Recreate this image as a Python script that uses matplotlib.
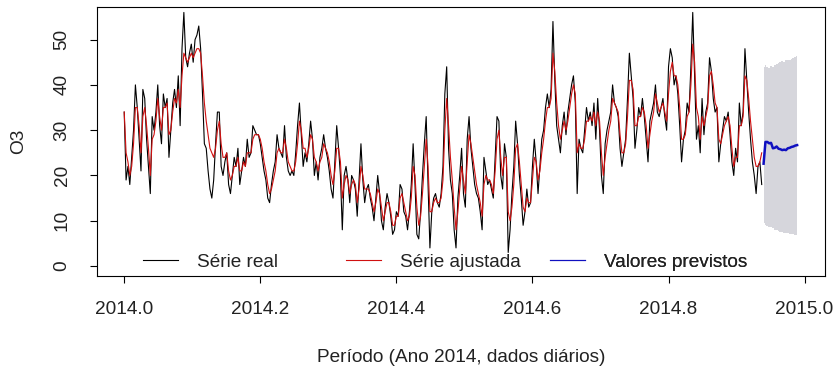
import numpy as np
import matplotlib
matplotlib.use("Agg")
import matplotlib.pyplot as plt
from matplotlib.lines import Line2D

# daily O3 values (day 0 = 2014.0)
serie_real = [
    34, 19, 22, 18, 24, 30, 40, 35, 28, 21, 39, 37, 28, 22, 16, 33, 30, 34, 40, 31,
    27, 38, 35, 37, 24, 30, 36, 39, 35, 42, 31, 48, 56, 46, 44, 47, 49, 45, 50, 51,
    53, 48, 38, 27, 26, 21, 17, 15, 19, 27, 34, 34, 22, 20, 23, 25, 18, 16, 20, 24,
    22, 26, 18, 21, 24, 22, 28, 24, 25, 31, 30, 29, 29, 27, 24, 21, 19, 15, 14, 18,
    21, 23, 29, 26, 25, 24, 31, 24, 21, 20, 21, 20, 25, 31, 36, 29, 22, 25, 23, 27,
    32, 28, 20, 23, 19, 24, 26, 29, 26, 24, 21, 17, 15, 23, 31, 26, 20, 8, 20, 22,
    19, 14, 20, 19, 17, 11, 19, 27, 19, 14, 17, 18, 15, 13, 10, 15, 20, 16, 10, 8,
    13, 16, 14, 11, 7, 8, 12, 11, 18, 17, 12, 11, 8, 12, 18, 27, 18, 7, 6, 12,
    20, 27, 33, 18, 4, 12, 15, 16, 14, 13, 16, 22, 38, 44, 26, 19, 16, 8, 4, 15,
    20, 26, 16, 13, 28, 33, 26, 22, 18, 16, 15, 12, 8, 24, 21, 18, 19, 17, 15, 24,
    33, 32, 20, 17, 27, 24, 3, 8, 16, 22, 32, 27, 20, 15, 9, 12, 17, 13, 14, 22,
    28, 23, 16, 22, 28, 30, 35, 38, 35, 39, 54, 41, 31, 28, 25, 31, 34, 29, 34, 37,
    40, 42, 36, 16, 28, 26, 25, 30, 35, 32, 34, 31, 36, 28, 37, 30, 20, 16, 27, 30,
    32, 34, 40, 36, 35, 33, 26, 22, 25, 28, 37, 47, 42, 37, 26, 30, 35, 33, 37, 33,
    28, 23, 32, 34, 36, 40, 34, 33, 35, 37, 33, 30, 44, 48, 46, 40, 42, 38, 31, 23,
    28, 30, 36, 34, 44, 56, 42, 28, 31, 25, 37, 29, 34, 36, 46, 43, 37, 34, 35, 23,
    27, 30, 33, 32, 34, 29, 23, 20, 26, 23, 36, 31, 34, 48, 41, 34, 28, 23, 20, 16,
    22, 23, 18,
]

serie_ajustada = [
    34, 25, 23, 20, 22, 27, 35, 35, 31, 25, 33, 35, 31, 26, 20, 28, 29, 32, 37, 33,
    30, 35, 35, 36, 29, 30, 34, 37, 36, 39, 35, 42, 47, 46, 45, 46, 47, 46, 47, 48,
    48, 47, 42, 36, 32, 29, 26, 25, 24, 26, 30, 32, 27, 24, 24, 25, 21, 19, 20, 22,
    22, 24, 21, 21, 23, 22, 25, 25, 25, 28, 29, 29, 29, 28, 26, 23, 21, 18, 16, 17,
    19, 21, 25, 26, 25, 25, 28, 26, 23, 22, 21, 21, 23, 27, 32, 30, 26, 26, 24, 26,
    29, 28, 24, 23, 21, 23, 24, 27, 26, 25, 23, 20, 18, 21, 26, 26, 23, 15, 18, 20,
    19, 16, 18, 19, 18, 14, 17, 22, 20, 17, 17, 17, 16, 14, 12, 14, 17, 16, 13, 10,
    12, 14, 14, 12, 9, 9, 11, 11, 15, 16, 14, 12, 10, 11, 15, 22, 20, 13, 9, 11,
    16, 22, 28, 22, 12, 12, 14, 15, 14, 14, 15, 19, 30, 37, 31, 24, 19, 13, 8, 12,
    17, 22, 19, 16, 23, 29, 27, 24, 21, 18, 16, 14, 11, 18, 20, 19, 19, 18, 16, 21,
    28, 30, 24, 20, 24, 24, 12, 10, 13, 18, 26, 27, 23, 18, 13, 12, 15, 14, 14, 19,
    24, 23, 19, 21, 25, 28, 32, 35, 35, 37, 47, 43, 36, 31, 28, 30, 32, 30, 32, 35,
    38, 40, 38, 25, 27, 26, 26, 28, 32, 32, 33, 32, 34, 31, 34, 32, 25, 20, 24, 27,
    30, 32, 37, 36, 35, 34, 29, 25, 25, 27, 33, 41, 41, 39, 31, 31, 33, 33, 35, 34,
    31, 26, 29, 32, 34, 38, 36, 34, 35, 36, 34, 32, 38, 43, 45, 42, 42, 40, 35, 28,
    28, 29, 33, 34, 40, 49, 45, 35, 33, 28, 33, 31, 33, 35, 42, 43, 40, 36, 35, 28,
    27, 29, 31, 32, 33, 31, 26, 22, 24, 24, 31, 31, 33, 42, 41, 37, 32, 28, 24, 22,
    22, 23, 25,
]

# forecast (mean and interval band)
previsto = [22.6, 27.4, 27.4, 27.1, 27.2, 26.0, 26.1, 26.4, 25.9, 25.8,
            25.6, 25.7, 25.6, 26.0, 26.1, 26.3, 26.4, 26.6, 26.7]
banda_sup = [44.0, 44.3, 44.0, 43.8, 44.2, 44.0, 44.5, 44.6, 44.8, 45.0,
             45.2, 45.0, 45.4, 45.6, 45.5, 45.8, 46.0, 46.2, 46.4]
banda_inf = [9.6, 9.0, 8.8, 8.6, 8.6, 8.3, 8.0, 8.0, 7.8, 7.6,
             7.5, 7.4, 7.3, 7.2, 7.1, 7.0, 7.0, 6.9, 6.8]

plt.rcParams["font.family"] = ["Liberation Sans", "DejaVu Sans"]
FS = 13.7
TXT = "#222222"

x_real = 2014 + np.arange(len(serie_real)) / 365
x_aj = 2014 + np.arange(len(serie_ajustada)) / 365
x_prev = 2014 + (len(serie_real) + np.arange(len(previsto))) / 365

fig = plt.figure(figsize=(8.33, 3.71), dpi=100)
ax = fig.add_axes([97 / 833, (371 - 276) / 371, (825 - 97) / 833, (276 - 7) / 371])

ax.fill_between(x_prev, banda_inf, banda_sup, color="#d6d6dc", lw=0, step="mid")
ax.plot(x_real, serie_real, color="black", lw=0.8)
ax.plot(x_aj, serie_ajustada, color="#d01010", lw=0.8)
ax.plot(x_prev, previsto, color="#1010c0", lw=1.8)

ax.set_xlim(2013.96, 2015.03)
ax.set_ylim(-2.2, 57.2)

ax.set_xticks(np.arange(2014.0, 2015.01, 0.2))
ax.set_xticklabels([f"{v:.1f}" for v in np.arange(2014.0, 2015.01, 0.2)])
ax.set_yticks(range(0, 51, 10))
ax.set_yticklabels([str(v) for v in range(0, 51, 10)], rotation=90, va="center")
ax.tick_params(axis="both", length=5, width=0.8, labelsize=FS, labelcolor=TXT)
ax.tick_params(axis="x", pad=13)
ax.tick_params(axis="y", pad=14)
for s in ax.spines.values():
    s.set_linewidth(0.8)

ax.set_xlabel("Período (Ano 2014, dados diários)", fontsize=FS, color=TXT, labelpad=22)
ax.set_ylabel("O3", fontsize=FS, color=TXT, labelpad=19)

# legend: three evenly spaced entries, like R's horiz legend
entradas = [("Série real", "black", 0.8, 0.0632),
            ("Série ajustada", "#d01010", 0.8, 0.342),
            ("Valores previstos", "#1010c0", 0.8, 0.622)]
for rotulo, cor, lw, xa in entradas:
    leg = ax.legend([Line2D([], [], color=cor, lw=lw)], [rotulo],
                    loc="center left", bbox_to_anchor=(xa, 0.052),
                    frameon=False, fontsize=FS, handlelength=1.84,
                    handletextpad=1.0, borderpad=0, borderaxespad=0,
                    labelcolor=TXT)
    ax.add_artist(leg)

fig.savefig("out.png", dpi=100)
